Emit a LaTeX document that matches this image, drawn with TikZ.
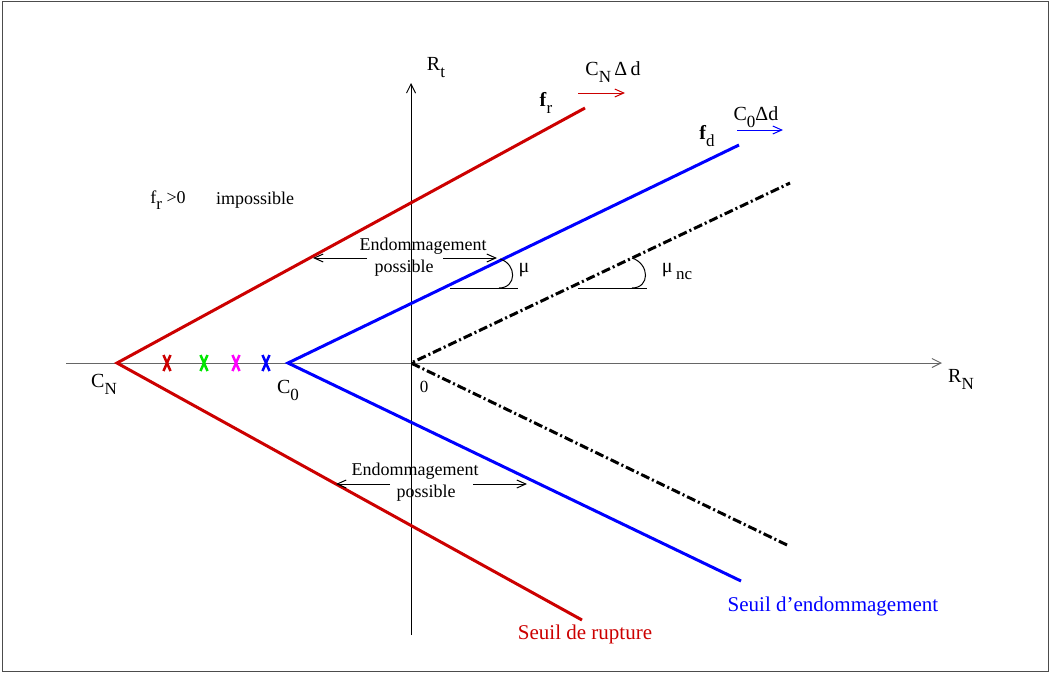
\documentclass[tikz,border=0pt]{standalone}
\usepackage{fontspec}
\setmainfont{Liberation Serif}
\usetikzlibrary{arrows.meta}
\definecolor{rred}{RGB}{204,0,0}
\definecolor{bblue}{RGB}{0,0,255}
\definecolor{ggreen}{RGB}{0,230,0}
\definecolor{mmag}{RGB}{255,0,255}
\newcommand{\lowr}[1]{\raisebox{-0.35em}{\fontsize{17}{19}\selectfont #1}}
\tikzset{
  fs/.style={font=\fontsize{#1}{#1}\selectfont},
  lbl/.style={inner sep=0pt, fs=20},
  txt/.style={inner sep=0pt, fs=18},
  seuil/.style={inner sep=0pt, fs=21},
  axis/.style={line width=1pt, -{Straight Barb[length=9pt,width=9pt,line width=1pt]}},
  thick line/.style={line width=3pt},
  small arrow/.style={line width=1pt, -{Straight Barb[length=9pt,width=8pt,line width=1pt]}},
  dashdot line/.style={line width=3pt, dash pattern=on 9pt off 3pt on 2pt off 3pt},
  xmark/.style={line width=2.5pt},
}
\begin{document}
\begin{tikzpicture}[x=1pt,y=-1pt]
\useasboundingbox (0,0) rectangle (1050,673);
\draw[line width=1pt, black!70] (2.5,1.5) rectangle (1048.5,671.5);

% key points
\coordinate (CN) at (117,363);
\coordinate (C0) at (288,363);
\coordinate (O) at (411,363);
\coordinate (rtop) at (585,108);
\coordinate (rbot) at (582,620);
\coordinate (btop) at (739,145);
\coordinate (bbot) at (741,581);
\coordinate (dtop) at (790,183);
\coordinate (dbot) at (787,545);
\coordinate (xl) at (66,363);
\coordinate (xr) at (942,363);
\coordinate (yb) at (411,635);
\coordinate (yt) at (411,83);

% axes
\draw[axis, black!60] (xl) -- (xr);
\draw[axis] (yb) -- (yt);

% thresholds
\draw[thick line, rred] (rbot) -- (CN) -- (rtop);
\draw[thick line, bblue] (bbot) -- (C0) -- (btop);
\draw[dashdot line] (dbot) -- (O) -- (dtop);

% x marks
\foreach \xx/\cc [count=\i] in {167/rred, 204/ggreen, 236/mmag, 266/bblue}{
  \coordinate (m\i) at (\xx,363);
  \draw[xmark, \cc] ([shift={(-3.5,-8)}]m\i) -- ([shift={(3.5,8)}]m\i);
  \draw[xmark, \cc] ([shift={(3.5,-8)}]m\i) -- ([shift={(-3.5,8)}]m\i);
}

% axis labels
\node[lbl] (lCN) at (104,384) {C\lowr{N}};
\node[lbl] (lC0) at (288,390) {C\lowr{0}};
\node[inner sep=0pt, fs=17] (l0) at (424,387) {0};
\node[lbl] (lRN) at (961,379) {R\lowr{N}};
\node[lbl] (lRt) at (436,68) {R\lowr{t}};

% f labels
\node[lbl] (lfr) at (546,103) {\textbf{f}\lowr{r}};
\node[lbl] (lfd) at (707,136) {\textbf{f}\lowr{d}};

% moving arrows
\node[lbl] (lCNd) at (613,72) {C\lowr{N}\,Δ\,d};
\coordinate (ra1) at (578,93);
\coordinate (ra2) at (625,93);
\draw[small arrow, rred] (ra1) -- (ra2);
\node[lbl] (lC0d) at (756,117) {C\lowr{0}Δd};
\coordinate (ba1) at (737,130);
\coordinate (ba2) at (783,130);
\draw[small arrow, bblue] (ba1) -- (ba2);

% impossible
\node[txt] (lfr0) at (168,200) {f\lowr{r} >0};
\node[txt] (limp) at (255,200) {impossible};

% upper endommagement possible
\node[txt] (e1) at (423,246) {Endommagement};
\node[txt] (p1) at (404,268) {possible};
\coordinate (ua1) at (367,258);
\coordinate (ua2) at (313,258);
\coordinate (ua3) at (443,258);
\coordinate (ua4) at (497,258);
\draw[small arrow] (ua1) -- (ua2);
\draw[small arrow] (ua3) -- (ua4);

% lower endommagement possible
\node[txt] (e2) at (415,471) {Endommagement};
\node[txt] (p2) at (426,493) {possible};
\coordinate (la1) at (390,484);
\coordinate (la2) at (336,484);
\coordinate (la3) at (473,484);
\coordinate (la4) at (527,484);
\draw[small arrow] (la1) -- (la2);
\draw[small arrow] (la3) -- (la4);

% angle mu
\coordinate (mu1) at (450,288);
\coordinate (mu2) at (518,288);
\coordinate (mua) at (500,259);
\coordinate (mub) at (499,288);
\draw[line width=1pt] (mu1) -- (mu2);
\draw[line width=1pt] (mua) .. controls (517,264) and (517,288) .. (mub);
\node[lbl] (lmu) at (524,270) {μ};

% angle mu_nc
\coordinate (mn1) at (578,288);
\coordinate (mn2) at (647,288);
\coordinate (mna) at (632,258);
\coordinate (mnb) at (632,288);
\draw[line width=1pt] (mn1) -- (mn2);
\draw[line width=1pt] (mna) .. controls (650,264) and (650,288) .. (mnb);
\node[lbl] (lmunc) at (677,271) {μ\,\lowr{nc}};

% threshold names
\node[seuil, text=rred] (sr) at (585,634) {Seuil de rupture};
\node[seuil, text=bblue] (se) at (833,606) {Seuil d’endommagement};
\end{tikzpicture}
\end{document}
